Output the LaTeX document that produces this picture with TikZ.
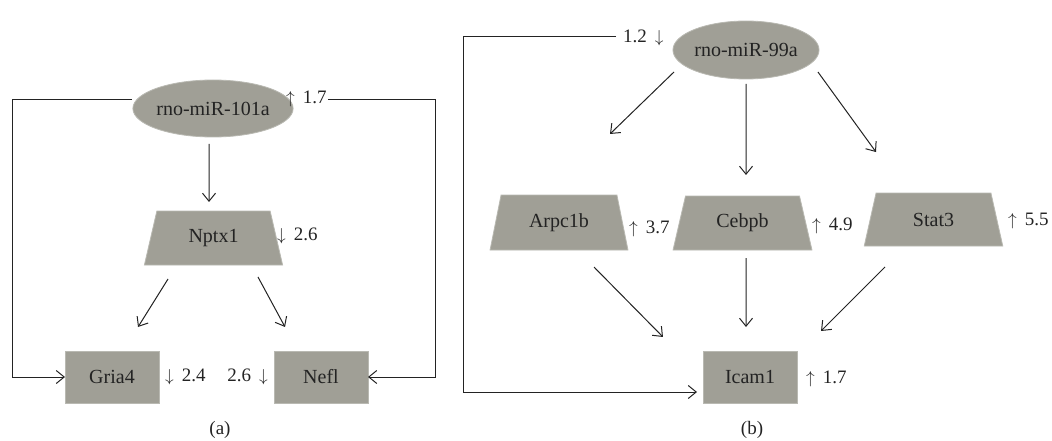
\documentclass[tikz,border=0pt]{standalone}
\usepackage{fontspec}
\setmainfont{Liberation Serif}
\usetikzlibrary{shapes.geometric,arrows.meta,calc}
\definecolor{boxfill}{RGB}{160,159,150}
\definecolor{boxline}{RGB}{185,185,178}
\definecolor{ink}{RGB}{35,35,35}
\newcommand{\upa}{$\uparrow$\hspace{8pt}}
\newcommand{\dna}{$\downarrow$\hspace{8pt}}
\newcommand{\adn}{\hspace{8pt}$\downarrow$}
\tikzset{
 gene/.style={draw=boxline, line width=0.8pt, fill=boxfill, inner sep=0pt, outer sep=0pt, font=\fontsize{20}{24}\selectfont, text=ink},
 mirna/.style={gene, ellipse, minimum width=140pt, minimum height=57pt},
 tgene/.style={gene, trapezium, trapezium left angle=72.5, trapezium right angle=72.5, trapezium stretches=true, minimum width=139pt, minimum height=54pt},
 rgene/.style={gene, rectangle, minimum width=94pt, minimum height=52pt},
 fc/.style={font=\fontsize{19}{23}\selectfont, text=ink, inner sep=0pt},
 captxt/.style={font=\fontsize{19}{23}\selectfont, text=ink, inner sep=0pt},
 arr/.style={draw=ink, line width=1pt, -{Straight Barb[length=8pt,width=13pt]}},
}
\begin{document}
\begin{tikzpicture}[x=1pt,y=-1pt]
\useasboundingbox (0,0) rectangle (1052,441);

% ---------- panel (a) ----------
\node[mirna] (m101) at (213,108.5) {rno-miR-101a};
\node[tgene] (nptx) at (213.5,238) {Nptx1};
\node[rgene] (gria) at (112,377) {Gria4};
\node[rgene] (nefl) at (321,377) {Nefl};

\node[fc, anchor=base west] (fcm101) at (286,104) {\upa 1.7};
\node[fc, anchor=base west] (fcnptx) at (277,240) {\dna 2.6};
\node[fc, anchor=base west] (fcgria) at (165,381) {\dna 2.4};
\node[fc, anchor=base east] (fcnefl) at (268,381) {2.6\adn};
\node[captxt] (capa) at (220,430) {(a)};

\coordinate (fa1) at (132,100);
\coordinate (fa2) at (328,100);

\draw[arr, shorten <=7pt, shorten >=9pt] ([xshift=-4pt]m101.south) -- ([xshift=-4.5pt]nptx.north);
\draw[arr, shorten <=16.5pt, shorten >=28.3pt] ([xshift=-36.75pt]nptx.south) -- ([xshift=11pt]gria.north);
\draw[arr, shorten <=13.6pt, shorten >=27.3pt] ([xshift=38pt]nptx.south) -- ([xshift=-23pt]nefl.north);
\draw[arr] (fa1) -- ++(-120,0) |- (gria.west);
\draw[arr] (fa2) -- ++(107,0) |- (nefl.east);

% ---------- panel (b) ----------
\node[mirna, minimum width=141pt, minimum height=58pt] (m99) at (746,50) {rno-miR-99a};
\node[tgene, minimum width=138pt, minimum height=55pt] (arpc) at (559,222.5) {Arpc1b};
\node[tgene] (cebpb) at (742.5,223) {Cebpb};
\node[tgene, minimum height=53pt] (stat3) at (933.5,219.5) {Stat3};
\node[rgene] (icam) at (750,377) {Icam1};

\node[fc, anchor=base west] (fcm99) at (623,43) {1.2\adn};
\node[fc, anchor=base west] (fcarpc) at (629,233) {\upa 3.7};
\node[fc, anchor=base west] (fccebpb) at (812,230) {\upa 4.9};
\node[fc, anchor=base west] (fcstat3) at (1008,225) {\upa 5.5};
\node[fc, anchor=base west] (fcicam) at (806,383) {\upa 1.7};
\node[captxt] (capb) at (752,430) {(b)};

\coordinate (fb1) at (616,37);

\draw[arr, shorten <=31.6pt, shorten >=87.7pt] ([xshift=-49.3pt]m99.center) -- ([xshift=-12pt]arpc.north);
\draw[arr, shorten <=5pt, shorten >=21pt] (m99.south) -- ([xshift=3.5pt]cebpb.north);
\draw[arr, shorten <=27.2pt, shorten >=50.6pt] ([xshift=56pt]m99.center) -- ([xshift=-27.8pt]stat3.north);

\draw[arr, shorten <=23.9pt, shorten >=19.7pt] ([xshift=18.2pt]arpc.south) -- ([xshift=-73.2pt]icam.north);
\draw[arr, shorten <=8pt, shorten >=24pt] ([xshift=3.5pt]cebpb.south) -- ([xshift=-4pt]icam.north);
\draw[arr, shorten <=29.7pt, shorten >=28.3pt] ([xshift=-27.5pt]stat3.south) -- ([xshift=51pt]icam.north);

\draw[arr, shorten >=6pt] (fb1) -- ++(-153,0) |- ([yshift=-15pt]icam.west);
\end{tikzpicture}
\end{document}
